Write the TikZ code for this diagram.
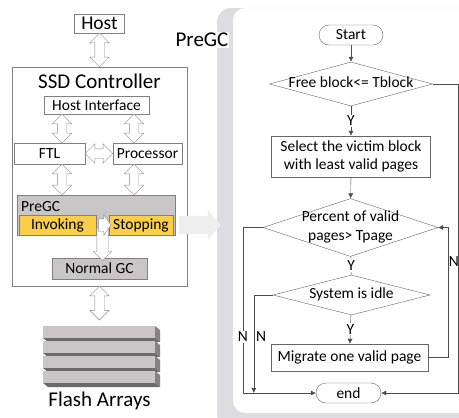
\documentclass[tikz,border=0pt]{standalone}
\usepackage{fontspec}
\setmainfont{Carlito}
\usetikzlibrary{shapes.geometric,shapes.arrows,arrows.meta,calc}

\definecolor{boxgray}{RGB}{200,198,198}
\definecolor{stategold}{RGB}{250,206,72}
\definecolor{panelgray}{RGB}{221,221,223}
\definecolor{slabfront}{RGB}{200,198,198}
\definecolor{slabside}{RGB}{132,130,130}
\definecolor{slabedge}{RGB}{108,106,106}

\newcommand\txtsmall{\fontsize{15.5}{18.5}\selectfont}
\newcommand\txthost{\fontsize{19.5}{22}\selectfont}
\newcommand\txtbig{\fontsize{21}{24}\selectfont}
\newcommand\dtext[1]{\makebox[0pt]{\begin{tabular}{@{}c@{}}#1\end{tabular}}}
\newcommand\hollowlink[3]{\path let \p1=#2, \p2=#3, \n1={veclen(\x2-\x1,\y2-\y1)} in
  (\p1) -- (\p2) node[midway, sloped, allow upside down, #1, minimum height=\n1] {};}

\begin{document}
\begin{tikzpicture}[x=1pt, y=-1pt, >={Latex[length=5pt,width=5pt]},
  blk/.style={draw=black!50, fill=white, inner sep=0pt, font=\txtsmall},
  grayblk/.style={blk, fill=boxgray},
  state/.style={blk, fill=stategold},
  proc/.style={draw=black!60, fill=white, inner sep=0pt, align=center, font=\txtsmall},
  dec/.style={diamond, draw=black!60, fill=white, inner sep=0pt, font=\txtsmall},
  term/.style={draw=black!60, fill=white, rounded corners=10pt, inner sep=0pt,
    minimum width=64pt, minimum height=20pt, font=\txtsmall},
  flow/.style={draw=black!70, ->},
  line/.style={draw=black!70},
  yn/.style={font=\txtsmall, fill=white, inner sep=1pt},
  dbl/.style={double arrow, draw=black!45, fill=white, inner xsep=0pt, inner ysep=4.5pt,
    double arrow head extend=5pt},
  sgl/.style={single arrow, draw=black!45, fill=white, inner xsep=0pt},
  bigarrow/.style={single arrow, fill=gray!13, inner xsep=0pt, inner ysep=9pt,
    single arrow head extend=6pt, single arrow tip angle=100}]
\useasboundingbox (0,0) rectangle (459,418);

% PreGC panel
\node[fill=panelgray, rounded corners=14pt, inner sep=0pt, minimum width=258pt, minimum height=420pt] (panel) at (346,218) {};
\node[fill=white, draw=black!8, rounded corners=12pt, inner sep=0pt, minimum width=242pt, minimum height=405pt] (pane) at (354,210.5) {};
\node[font=\txtbig, fill=white, inner sep=1pt] (pgtitle) at (202,40) {PreGC};

% controller
\node[blk, font=\txthost, minimum width=50pt, minimum height=19pt] (host) at (99.5,23.5) {Host};
\node[draw=black!50, minimum width=175pt, minimum height=219pt] (ssd) at (99.5,176.5) {};
\node[font=\txtbig] (ssdtitle) at (99.5,81) {SSD Controller};
\node[blk, minimum width=105pt, minimum height=18pt] (hif) at (96.5,105) {Host Interface};
\node[blk, minimum width=71pt, minimum height=21pt] (ftl) at (49.5,153.5) {FTL};
\node[blk, minimum width=69pt, minimum height=21pt] (cpu) at (147.5,153.5) {Processor};
\node[grayblk, minimum width=158pt, minimum height=40pt] (pregc) at (96,215) {};
\node[font=\txtsmall, anchor=west, inner sep=0pt] (pregclabel) at (21,207) {PreGC};
\node[state, minimum width=77pt, minimum height=20pt] (inv) at (57.5,225) {Invoking};
\node[state, minimum width=64pt, minimum height=20pt] (stop) at (141,225) {Stopping};
\node[grayblk, minimum width=95pt, minimum height=21pt] (ngc) at (99.5,268.5) {Normal GC};

\coordinate (lx) at (62,0);
\coordinate (rx) at (134,0);
\coordinate (flashtop) at (99.5,320);
\coordinate (gap) at ($(inv.east)!0.5!(stop.west)$);

\hollowlink{dbl}{(host.south)}{(ssd.north)}
\hollowlink{dbl}{(hif.south -| lx)}{(ftl.north -| lx)}
\hollowlink{dbl}{(hif.south -| rx)}{(cpu.north -| rx)}
\hollowlink{dbl}{(ftl.east)}{(cpu.west)}
\hollowlink{dbl}{(ftl.south -| lx)}{(pregc.north -| lx)}
\hollowlink{dbl}{(cpu.south -| rx)}{(pregc.north -| rx)}
\hollowlink{sgl, inner ysep=5.5pt, single arrow head extend=3.5pt}{(gap)}{(gap |- ngc.north)}
\hollowlink{sgl, inner ysep=6pt, single arrow head extend=4pt, single arrow tip angle=110}{(inv.east)}{(stop.west)}
\hollowlink{dbl}{(ssd.south)}{(flashtop)}
\hollowlink{bigarrow}{(pregc.east |- stop.east)}{(panel.west |- stop.east)}

% flash arrays
\foreach \i [evaluate=\i as \t using 326+15*\i] in {0,...,3} {
  \fill[slabfront] (43,\t) rectangle (155,\t+12);
  \fill[slabside] (155,\t) -- (160,\t+4) -- (160,\t+16) -- (155,\t+12) -- cycle;
  \fill[slabedge] (43,\t+12) -- (155,\t+12) -- (160,\t+16) -- (48,\t+16) -- cycle;
}
\node[font=\txtbig] (flash) at (99.5,401) {Flash Arrays};

% flow chart
\node[term] (start) at (351,35) {Start};
\node[dec, minimum width=163pt, minimum height=44pt] (free) at (351,84) {\dtext{Free block<= Tblock}};
\node[proc, minimum width=159pt, minimum height=41pt] (victim) at (351,156.5) {Select the victim block\\with least valid pages};
\node[dec, minimum width=175pt, minimum height=58pt] (pct) at (350.5,227.5) {\dtext{Percent of valid\\pages> Tpage}};
\node[dec, minimum width=157pt, minimum height=40pt] (idle) at (351.5,295) {\dtext{System is idle}};
\node[proc, minimum width=157pt, minimum height=27pt] (move) at (349.5,357.5) {Migrate one valid page};
\node[term, minimum width=65pt] (end) at (348.5,393) {end};

\draw[flow] (start) -- (free);
\draw[flow] (free) -- node[yn] {Y} (victim);
\draw[flow] (victim) -- (pct);
\draw[line] (pct) -- node[yn] {Y} (idle);
\draw[flow] (idle) -- node[yn] {Y} (move);
\draw[flow] (move.east) -- ++(20,0) |- node[pos=0.37, right, font=\txtsmall, inner sep=0.5pt] {N} (pct.east);
\draw[flow] (pct.west) -- ++(-20,0) |- node[pos=0.33, yn] {N} (end.west);
\draw[flow] (idle.west) -- ++(-19,0) coordinate (idlec) -- node[pos=0.42, right, font=\txtsmall, inner sep=2pt] {N} (idlec |- end.west);
\draw[flow] (free.east) -- ++(25.5,0) |- (end.east);
\end{tikzpicture}
\end{document}
